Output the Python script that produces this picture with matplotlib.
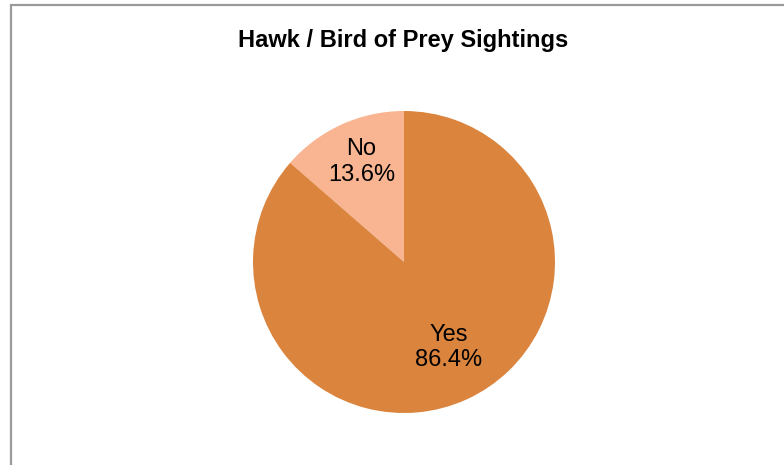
import numpy as np
import matplotlib.pyplot as plt
from matplotlib.patches import Rectangle

plt.rcParams['font.family'] = ['Liberation Sans', 'DejaVu Sans']

# Data
labels = ['No', 'Yes']
shares = [13.6, 86.4]
colors = ['#F9B591', '#DA843E']
label_dist = [0.72, 0.64]   # how far out each label sits (fraction of radius)
label_turn = [-1.5, 3.0]    # small angle nudge for each label (degrees)

W, H = 784, 465
fig = plt.figure(figsize=(W / 100, H / 100), dpi=100)

# Grey chart-area border (runs off the right and bottom edges)
fig.patches.append(Rectangle((11 / W, -0.1), 1.2, (H - 5) / H + 0.1,
                             transform=fig.transFigure, fill=False,
                             edgecolor='#9a9a9a', linewidth=1.6))

fig.text(403 / W, 1 - 47 / H, 'Hawk / Bird of Prey Sightings',
         ha='center', va='baseline', fontsize=17, fontweight='bold')

cx, cy, r = 404, 262, 151
ax = fig.add_axes([(cx - r) / W, (H - cy - r) / H, 2 * r / W, 2 * r / H])
wedges, _ = ax.pie(shares, colors=colors, startangle=90, counterclock=True,
                   radius=1.0, wedgeprops=dict(linewidth=0))
ax.set_xlim(-1, 1)
ax.set_ylim(-1, 1)
ax.set_aspect('equal')
ax.axis('off')

for w, lab, pct, d, t in zip(wedges, labels, shares, label_dist, label_turn):
    ang = np.deg2rad((w.theta1 + w.theta2) / 2 + t)
    ax.text(d * np.cos(ang), d * np.sin(ang), f'{lab}\n{pct:.1f}%',
            ha='center', va='center', fontsize=17, linespacing=1.19)

fig.savefig('out.png', dpi=100)
